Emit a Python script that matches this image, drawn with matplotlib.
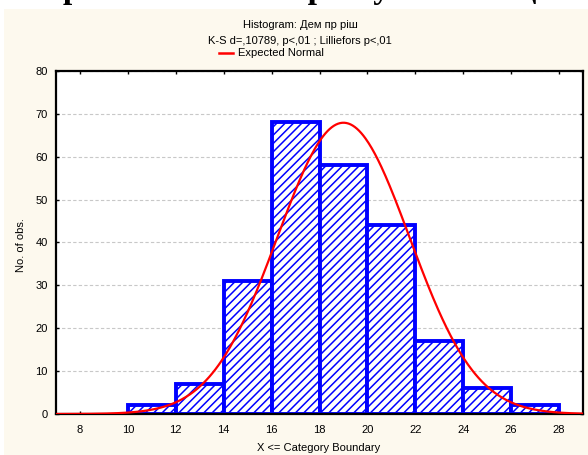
import numpy as np
import matplotlib.pyplot as plt
from matplotlib.patches import Rectangle
from matplotlib.lines import Line2D

W, H = 588, 455

# histogram data (X <= category boundary)
bin_left = [10, 12, 14, 16, 18, 20, 22, 24, 26]
counts = [2, 7, 31, 68, 58, 44, 17, 6, 2]
bin_width = 2
x_ticks = [8, 10, 12, 14, 16, 18, 20, 22, 24, 26, 28]
y_ticks = [0, 10, 20, 30, 40, 50, 60, 70, 80]

# expected normal parameters
mean_val = 19.0
sd_val = 2.76
n_obs = sum(counts)

plt.rcParams['font.family'] = ['Liberation Sans', 'DejaVu Sans']
plt.rcParams['hatch.color'] = 'blue'
plt.rcParams['hatch.linewidth'] = 1.1

fig = plt.figure(figsize=(W / 100, H / 100), dpi=100, facecolor='white')
fig.add_artist(Rectangle((4 / W, 0), 1, 1 - 9 / H, transform=fig.transFigure,
                         facecolor='#FDF9EE', edgecolor='none', zorder=-5))

# cropped document heading above the chart (only its lower edge is visible)
fig.text(0.52, 1 + 2 / H, "Гістограма нашої вибірки у тесті з оцінками",
         family=['Liberation Serif', 'DejaVu Serif'], fontsize=24, fontweight='bold',
         ha='center', va='baseline')

ax = fig.add_axes([56 / W, (H - 414) / H, (583 - 56) / W, (414 - 71) / H])
ax.set_facecolor('white')

ax.bar(bin_left, counts, width=bin_width, align='edge', facecolor='white',
       edgecolor='blue', hatch='////', linewidth=2.8, zorder=2)

xs = np.linspace(7, 29, 500)
ys = n_obs * bin_width * np.exp(-0.5 * ((xs - mean_val) / sd_val) ** 2) / (sd_val * np.sqrt(2 * np.pi))
ax.plot(xs, ys, color='red', linewidth=1.6, zorder=3)

ax.set_xlim(7, 29)
ax.set_ylim(0, 80)
ax.set_xticks(x_ticks)
ax.set_yticks(y_ticks)
ax.tick_params(direction='in', length=2.5, width=1, labelsize=8, top=True, right=True, pad=6)
ax.tick_params(axis='x', pad=8)
ax.yaxis.grid(True, linestyle=(0, (3, 2)), color='#c8c8c8', linewidth=0.8)
ax.set_axisbelow(True)
for s in ax.spines.values():
    s.set_linewidth(1.6)
    s.set_color('black')

fig.text(300 / W, 1 - 25 / H, "Histogram: Дем пр ріш", ha='center', va='center', fontsize=8)
fig.text(300 / W, 1 - 41 / H, "K-S d=,10789, p<,01 ; Lilliefors p<,01", ha='center', va='center', fontsize=8)
fig.add_artist(Line2D([219 / W, 233 / W], [1 - 53 / H, 1 - 53 / H], color='red', linewidth=1.8))
fig.text(238 / W, 1 - 53 / H, "Expected Normal", ha='left', va='center', fontsize=8)

fig.text(319 / W, 1 - 448 / H, "X <= Category Boundary", ha='center', va='center', fontsize=8)
fig.text(21 / W, 1 - 245 / H, "No. of obs.", ha='center', va='center', rotation=90, fontsize=8)

fig.savefig('out.png', dpi=100, facecolor=fig.get_facecolor())
